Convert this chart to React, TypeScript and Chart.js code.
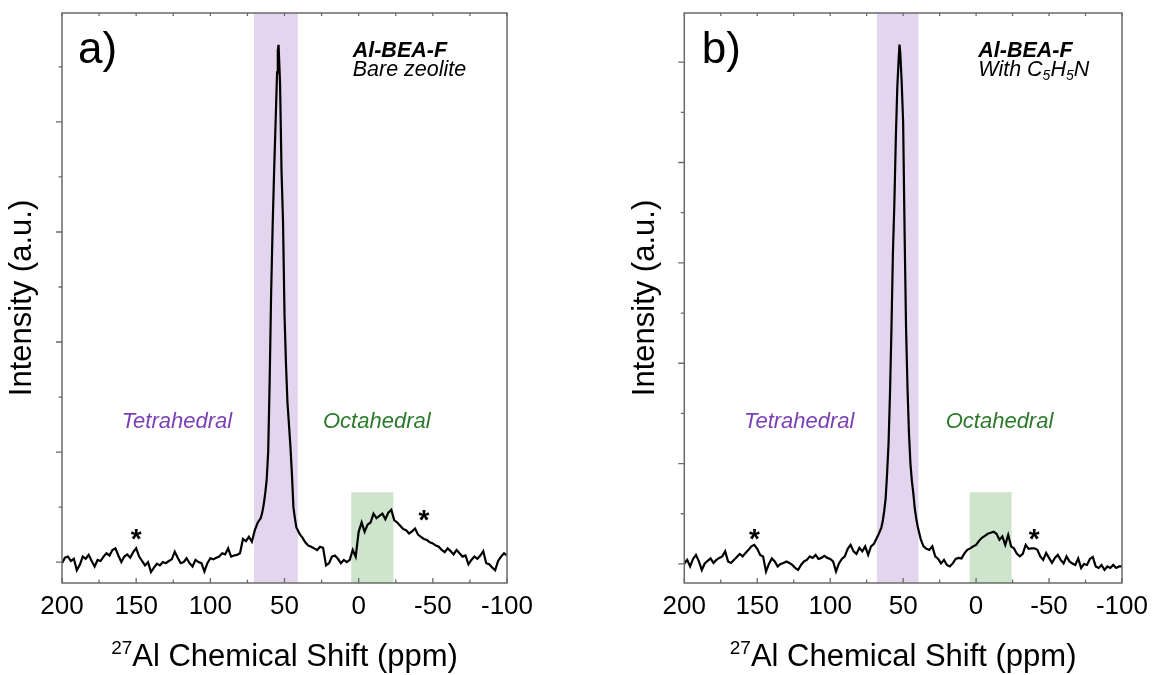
import React, { useEffect, useRef } from 'react';
import { Chart, registerables } from 'chart.js';

Chart.register(...registerables);

const FONT = '"Liberation Sans", Arial, Helvetica, sans-serif';

// ---------- Panel a: Al-BEA-F, bare zeolite ----------
const shiftA = [
  200, 198, 196, 194, 192, 190, 188, 186, 184, 182,
  180, 178, 176, 174, 172, 170, 168, 166, 164, 162,
  160, 158, 156, 154, 152, 150, 148, 146, 144, 142,
  140, 138, 136, 134, 132, 130, 128, 126, 124, 122,
  120, 118, 116, 114, 112, 110, 108, 106, 104, 102,
  100, 98, 96, 94, 92, 90, 88, 86, 84, 82,
  80, 78, 76, 74, 72, 70, 68, 66,
  65, 64, 63, 62, 61, 60, 59, 58, 57, 56, 55, 54.5, 54,
  53, 52, 51, 50, 49, 48, 47, 46, 45, 44, 43, 42, 41, 40, 39,
  38, 36, 34, 32, 30, 28, 26, 24, 22, 20,
  18, 16, 14, 12, 10, 8, 6, 4, 2, 0,
  -2, -4, -6, -8, -10, -12, -14, -16, -18, -20,
  -22, -24, -26, -28, -30, -32, -34, -36, -38, -40,
  -42, -44, -46, -48, -50, -52, -54, -56, -58, -60,
  -62, -64, -66, -68, -70, -72, -74, -76, -78, -80,
  -82, -84, -86, -88, -90, -92, -94, -96, -98, -100,
];
const intensityA = [
  -0.02, 0.08, 0.10, 0.02, 0.06, -0.15, -0.05, 0.10, 0.06, 0.13,
  0.02, -0.08, 0.04, 0.02, 0.10, 0.16, 0.12, 0.22, 0.25, 0.12,
  0.00, 0.10, 0.14, 0.08, 0.18, 0.25, 0.10, 0.02, -0.06, 0.00,
  -0.18, -0.10, -0.03, -0.06, 0.00, -0.02, 0.02, 0.05, 0.19, 0.08,
  -0.02, 0.00, 0.07, -0.02, -0.08, 0.04, 0.00, -0.02, -0.17, -0.02,
  0.07, 0.05, 0.08, 0.10, 0.16, 0.14, 0.25, 0.10, 0.12, 0.13,
  0.16, 0.42, 0.38, 0.46, 0.37, 0.58, 0.72, 0.80,
  0.90, 1.05, 1.25, 1.50, 2.00, 3.30, 4.90, 6.10, 7.10, 8.00, 8.90, 9.30, 9.40,
  8.70, 7.10, 6.20, 4.50, 3.60, 2.90, 2.50, 2.10, 1.60, 1.00, 0.80, 0.63, 0.58, 0.52, 0.48,
  0.45, 0.36, 0.30, 0.28, 0.25, 0.22, 0.28, 0.26, -0.06, -0.02,
  0.10, 0.12, 0.06, -0.02, 0.04, 0.00, 0.04, 0.22, 0.10, 0.55,
  0.72, 0.55, 0.68, 0.72, 0.88, 0.80, 0.84, 0.88, 0.78, 0.90,
  0.95, 0.76, 0.72, 0.66, 0.60, 0.58, 0.52, 0.56, 0.61, 0.50,
  0.46, 0.42, 0.40, 0.36, 0.34, 0.30, 0.28, 0.22, 0.18, 0.25,
  0.20, 0.14, 0.22, 0.16, 0.10, 0.12, -0.04, 0.04, 0.10, 0.06,
  0.12, 0.20, -0.02, -0.04, -0.10, -0.15, 0.02, 0.10, 0.16, 0.12,
];

// ---------- Panel b: Al-BEA-F with pyridine ----------
const shiftB = [
  200, 198, 196, 194, 192, 190, 188, 186, 184, 182,
  180, 178, 176, 174, 172, 170, 168, 166, 164, 162,
  160, 158, 156, 154, 152, 150, 148, 146, 144, 142,
  140, 138, 136, 134, 132, 130, 128, 126, 124, 122,
  120, 118, 116, 114, 112, 110, 108, 106, 104, 102,
  100, 98, 96, 94, 92, 90, 88, 86, 84, 82,
  80, 78, 76, 74, 72, 70,
  69, 68, 67, 66, 65, 64, 63, 62, 61, 60, 59, 58, 57, 56, 55, 54, 53,
  52.5, 52, 51, 50, 49, 48, 47, 46, 45, 44, 43, 42, 41, 40, 39, 38, 37,
  36, 34, 32, 30, 28, 26, 24, 22, 20, 18,
  16, 14, 12, 10, 8, 6, 4, 2, 0, -2,
  -4, -6, -8, -10, -12, -14, -16, -18, -20, -22,
  -24, -26, -28, -30, -32, -34, -36, -38, -40, -42,
  -44, -46, -48, -50, -52, -54, -56, -58, -60, -62,
  -64, -66, -68, -70, -72, -74, -76, -78, -80, -82,
  -84, -86, -88, -90, -92, -94, -96, -98, -100,
];
const intensityB = [
  0.01, 0.08, -0.05, 0.10, 0.18, 0.05, -0.12, 0.01, 0.06, 0.11,
  0.02, 0.08, 0.12, 0.15, 0.25, 0.05, 0.02, 0.08, 0.14, 0.20,
  0.15, 0.22, 0.28, 0.35, 0.38, 0.30, 0.18, 0.15, -0.15, 0.00,
  0.11, 0.05, -0.05, 0.00, 0.02, 0.05, 0.02, -0.02, -0.08, -0.12,
  -0.02, 0.05, 0.08, 0.15, 0.12, 0.18, 0.10, 0.12, 0.16, 0.12,
  0.10, 0.05, -0.15, 0.01, 0.10, 0.15, 0.30, 0.38, 0.25, 0.20,
  0.32, 0.25, 0.35, 0.18, 0.35, 0.40,
  0.46, 0.52, 0.58, 0.65, 0.72, 0.85, 1.05, 1.30, 1.80, 2.40, 3.40, 4.70, 6.20, 7.20, 8.50, 9.50, 10.10,
  10.35, 10.20, 9.60, 8.80, 6.60, 4.70, 3.50, 2.60, 2.00, 1.65, 1.40, 1.10, 0.90, 0.74, 0.62, 0.50, 0.42,
  0.35, 0.30, 0.28, 0.35, 0.15, 0.10, 0.01, 0.08, -0.02, -0.05,
  0.01, 0.10, 0.12, 0.11, 0.21, 0.28, 0.31, 0.35, 0.38, 0.46,
  0.52, 0.56, 0.60, 0.62, 0.64, 0.60, 0.48, 0.55, 0.38, 0.58,
  0.35, 0.31, 0.20, 0.15, 0.20, 0.38, 0.30, 0.31, 0.31, 0.28,
  0.15, 0.08, 0.22, 0.12, 0.02, 0.12, 0.18, 0.08, 0.01, 0.15,
  0.05, 0.01, -0.02, 0.11, -0.08, 0.00, -0.02, 0.10, 0.14, -0.05,
  -0.08, -0.02, -0.12, -0.05, -0.08, -0.02, -0.08, -0.05, -0.05,
];

// axis ticks
const xTickValues = [200, 175, 150, 125, 100, 75, 50, 25, 0, -25, -50, -75, -100];
const yTicksA = [0, 1, 2, 3, 4, 5, 6, 7, 8, 9];
const yTicksB = [0, 1, 2, 3, 4, 5, 6, 7, 8, 9, 10];

// shaded regions [from ppm, to ppm], green top intensity
const tetraBandA = [70.5, 41];
const octaBandA = [5, -23.4];
const octaTopA = 1.27;
const tetraBandB = [68, 39.5];
const octaBandB = [4.4, -24.3];
const octaTopB = 1.43;

// asterisk markers (ppm, intensity)
const starsA = [[150, 0.55], [-44, 0.89]];
const starsB = [[151.9, 0.64], [-39.8, 0.64]];

const AXIS = '#6a6a6a';
const PURPLE_FILL = '#e2d5ed';
const GREEN_FILL = '#cfe4cc';
const PURPLE_TEXT = '#7b3fb6';
const GREEN_TEXT = '#2b7a2b';

type PanelCfg = {
  shifts: number[];
  values: number[];
  yMax: number;
  yTicks: number[];
  leftW: number;
  padRight: number;
  titlePad: number;
  tetra: number[];
  octa: number[];
  octaTop: number;
  stars: number[][];
  letter: string;
  letterPos: [number, number];
  namePos: [number, number];
  sub: 'bare' | 'pyr';
  tetraPos: [number, number];
  octaPos: [number, number];
};

const decorPlugin = {
  id: 'panelDecor',
  beforeDatasetsDraw(chart: any, _a: any, o: any) {
    const { ctx, chartArea: ca, scales } = chart;
    const x = scales.x;
    const y = scales.y;
    ctx.save();
    const p0 = x.getPixelForValue(o.tetra[0]);
    const p1 = x.getPixelForValue(o.tetra[1]);
    ctx.fillStyle = PURPLE_FILL;
    ctx.fillRect(Math.min(p0, p1), ca.top, Math.abs(p1 - p0), ca.bottom - ca.top);
    const g0 = x.getPixelForValue(o.octa[0]);
    const g1 = x.getPixelForValue(o.octa[1]);
    const gt = y.getPixelForValue(o.octaTop);
    ctx.fillStyle = GREEN_FILL;
    ctx.fillRect(Math.min(g0, g1), gt, Math.abs(g1 - g0), ca.bottom - gt);
    ctx.restore();
  },
  afterDraw(chart: any, _a: any, o: any) {
    const { ctx, chartArea: ca, scales } = chart;
    const x = scales.x;
    const y = scales.y;
    ctx.save();
    // frame
    ctx.strokeStyle = AXIS;
    ctx.lineWidth = 1.5;
    ctx.strokeRect(ca.left, ca.top, ca.right - ca.left, ca.bottom - ca.top);
    // ticks
    ctx.lineWidth = 1.3;
    ctx.beginPath();
    for (const t of xTickValues) {
      const px = x.getPixelForValue(t);
      const major = t % 50 === 0;
      ctx.moveTo(px, ca.bottom);
      ctx.lineTo(px, ca.bottom - (major ? 5 : 3.5));
      ctx.moveTo(px, ca.top);
      ctx.lineTo(px, ca.top + 3);
    }
    for (const t of o.yTicks) {
      const py = y.getPixelForValue(t);
      ctx.moveTo(ca.left, py);
      ctx.lineTo(ca.left - (t % 2 === 0 ? 6 : 3.5), py);
    }
    ctx.stroke();

    ctx.fillStyle = '#000';
    ctx.textAlign = 'left';
    ctx.textBaseline = 'alphabetic';
    // panel letter
    ctx.font = `44px ${FONT}`;
    ctx.fillText(o.letter, o.letterPos[0], o.letterPos[1]);
    // sample name
    ctx.font = `italic bold 21.5px ${FONT}`;
    ctx.fillText('Al-BEA-F', o.namePos[0], o.namePos[1]);
    const sx = o.namePos[0];
    const sy = o.namePos[1] + 19.5;
    if (o.sub === 'bare') {
      ctx.font = `italic 21.5px ${FONT}`;
      ctx.fillText('Bare zeolite', sx, sy);
    } else {
      const parts: [string, boolean][] = [['With C', false], ['5', true], ['H', false], ['5', true], ['N', false]];
      let cx = sx;
      for (const [txt, isSub] of parts) {
        ctx.font = isSub ? `italic 14px ${FONT}` : `italic 21.5px ${FONT}`;
        ctx.fillText(txt, cx, isSub ? sy + 4 : sy);
        cx += ctx.measureText(txt).width;
      }
    }
    // region labels
    ctx.font = `italic 22px ${FONT}`;
    ctx.fillStyle = PURPLE_TEXT;
    ctx.fillText('Tetrahedral', o.tetraPos[0], o.tetraPos[1]);
    ctx.fillStyle = GREEN_TEXT;
    ctx.fillText('Octahedral', o.octaPos[0], o.octaPos[1]);
    // asterisks
    ctx.fillStyle = '#000';
    ctx.font = `bold 28px ${FONT}`;
    ctx.textAlign = 'center';
    for (const s of o.stars) {
      ctx.fillText('*', x.getPixelForValue(s[0]), y.getPixelForValue(s[1]) + 16);
    }
    // x-axis title with superscript
    const cxm = (ca.left + ca.right) / 2;
    ctx.textAlign = 'left';
    ctx.font = `19px ${FONT}`;
    const supW = ctx.measureText('27').width;
    ctx.font = `31px ${FONT}`;
    const mainTxt = 'Al Chemical Shift (ppm)';
    const mainW = ctx.measureText(mainTxt).width;
    const start = cxm - (supW + mainW) / 2;
    const base = 666;
    ctx.font = `19px ${FONT}`;
    ctx.fillText('27', start, base - 12);
    ctx.font = `31px ${FONT}`;
    ctx.fillText(mainTxt, start + supW, base);
    ctx.restore();
  },
};

function buildConfig(c: PanelCfg): any {
  return {
    type: 'line',
    data: {
      datasets: [
        {
          data: c.shifts.map((s, i) => ({ x: s, y: c.values[i] })),
          borderColor: '#000',
          borderWidth: 2.2,
          pointRadius: 0,
          tension: 0,
          fill: false,
        },
      ],
    },
    options: {
      responsive: false,
      maintainAspectRatio: false,
      animation: false,
      layout: { padding: { left: 0, right: c.padRight, top: 13, bottom: 0 } },
      plugins: {
        legend: { display: false },
        tooltip: { enabled: false },
        panelDecor: c,
      },
      scales: {
        x: {
          type: 'linear',
          reverse: true,
          min: -100,
          max: 200,
          afterFit: (s: any) => {
            s.height = 92;
          },
          ticks: {
            stepSize: 50,
            font: { family: FONT, size: 26 },
            color: '#000',
            padding: 8,
            maxRotation: 0,
            autoSkip: false,
            callback: (v: any) => String(v),
          },
          grid: { display: false, drawTicks: false },
          border: { display: false },
        },
        y: {
          type: 'linear',
          min: -0.38,
          max: c.yMax,
          afterFit: (s: any) => {
            s.width = c.leftW;
          },
          ticks: { display: false },
          grid: { display: false, drawTicks: false },
          border: { display: false },
          title: {
            display: true,
            text: 'Intensity (a.u.)',
            font: { family: FONT, size: 31 },
            color: '#000',
            padding: { top: c.titlePad, bottom: 0 },
          },
        },
      },
    },
    plugins: [decorPlugin],
  };
}

const panelA: PanelCfg = {
  shifts: shiftA,
  values: intensityA,
  yMax: 9.98,
  yTicks: yTicksA,
  leftW: 62,
  padRight: 71,
  titlePad: 4,
  tetra: tetraBandA,
  octa: octaBandA,
  octaTop: octaTopA,
  stars: starsA,
  letter: 'a)',
  letterPos: [78, 63],
  namePos: [352.7, 56.7],
  sub: 'bare',
  tetraPos: [121.7, 427.7],
  octaPos: [323, 427.7],
};

const panelB: PanelCfg = {
  shifts: shiftB,
  values: intensityB,
  yMax: 10.98,
  yTicks: yTicksB,
  leftW: 106.3,
  padRight: 27,
  titlePad: 49,
  tetra: tetraBandB,
  octa: octaBandB,
  octaTop: octaTopB,
  stars: starsB,
  letter: 'b)',
  letterPos: [123.7, 63],
  namePos: [400.3, 56.7],
  sub: 'pyr',
  tetraPos: [166, 427.7],
  octaPos: [367.7, 427.7],
};

function Panel({ cfg, left }: { cfg: PanelCfg; left: number }) {
  const ref = useRef<HTMLCanvasElement>(null);
  useEffect(() => {
    const chart = new Chart(ref.current as HTMLCanvasElement, buildConfig(cfg));
    return () => chart.destroy();
  }, [cfg]);
  return (
    <canvas
      ref={ref}
      width={578}
      height={675}
      style={{ position: 'absolute', left, top: 0, width: 578, height: 675 }}
    />
  );
}

export default function App() {
  return (
    <div
      style={{
        position: 'absolute',
        left: 0,
        top: 0,
        width: 1156,
        height: 675,
        background: '#fff',
        overflow: 'hidden',
      }}
    >
      <Panel cfg={panelA} left={0} />
      <Panel cfg={panelB} left={578} />
    </div>
  );
}
